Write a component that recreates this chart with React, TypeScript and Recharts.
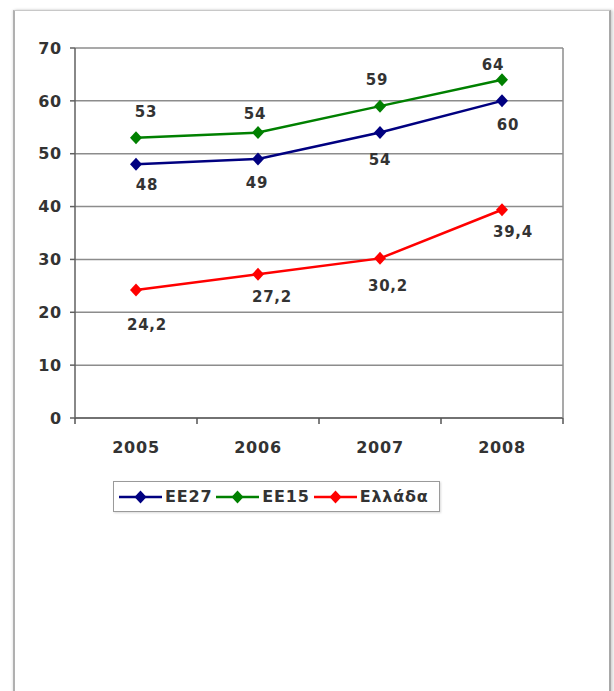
import React from "react";
import { LineChart, Line, XAxis, YAxis, CartesianGrid, LabelList } from "recharts";

// Years on the category axis
const years = ["2005", "2006", "2007", "2008"];

// Series values
const ee27 = [48, 49, 54, 60];
const ee15 = [53, 54, 59, 64];
const ellada = [24.2, 27.2, 30.2, 39.4];

// Value axis ticks
const yTicks = [0, 10, 20, 30, 40, 50, 60, 70];

const series = [
  { key: "ee27", name: "ΕΕ27", color: "#000080", values: ee27 },
  { key: "ee15", name: "ΕΕ15", color: "#008000", values: ee15 },
  { key: "ellada", name: "Ελλάδα", color: "#ff0000", values: ellada },
];

// Hand-tuned label nudges (dx, dy) per series and year
const labelNudges: Record<string, [number, number][]> = {
  ee27: [[11, 21], [-1, 24], [0, 27], [6, 24]],
  ee15: [[10, -26], [-3, -19], [-3, -26], [-9, -15]],
  ellada: [[11, 35], [14, 23], [8, 28], [11, 22]],
};

const data = years.map((year, i) => ({
  year,
  ee27: ee27[i],
  ee15: ee15[i],
  ellada: ellada[i],
}));

const FONT = "'DejaVu Sans', Verdana, sans-serif";
const TEXT = "#333333";
const PLOT_W = 488;
const HALF_BAND = PLOT_W / years.length / 2;

const fmt = (v: number) => String(v).replace(".", ",");

const Diamond = (props: any) => {
  const { cx, cy, fill } = props;
  if (cx == null || cy == null) return null;
  const r = 6.5;
  return (
    <polygon
      points={`${cx},${cy - r} ${cx + r - 0.5},${cy} ${cx},${cy + r} ${cx - r + 0.5},${cy}`}
      fill={fill}
    />
  );
};

const makeLabel = (key: string) => (props: any) => {
  const { x, y, value, index } = props;
  const [dx, dy] = labelNudges[key][index] || [0, 0];
  return (
    <text
      x={x + dx}
      y={y + dy}
      textAnchor="middle"
      dominantBaseline="central"
      fontFamily={FONT}
      fontWeight="bold"
      fontSize={15}
      letterSpacing={0.8}
      fill={TEXT}
    >
      {fmt(value)}
    </text>
  );
};

// Category tick: label in the middle, tick marks on the band boundaries
const YearTick = (props: any) => {
  const { x, y, payload, index } = props;
  const last = index === years.length - 1;
  return (
    <g>
      <line x1={x - HALF_BAND} y1={y - 8} x2={x - HALF_BAND} y2={y - 2} stroke="#555" strokeWidth={1.5} />
      {last && (
        <line x1={x + HALF_BAND} y1={y - 8} x2={x + HALF_BAND} y2={y - 2} stroke="#555" strokeWidth={1.5} />
      )}
      <text
        x={x}
        y={y + 27}
        textAnchor="middle"
        fontFamily={FONT}
        fontWeight="bold"
        fontSize={16}
        letterSpacing={0.8}
        fill={TEXT}
      >
        {payload.value}
      </text>
    </g>
  );
};

const LegendIcon = ({ color }: { color: string }) => (
  <svg width={43} height={14} style={{ display: "block" }}>
    <line x1={0} y1={7} x2={43} y2={7} stroke={color} strokeWidth={2.5} />
    <polygon points="21.5,0.5 27.5,7 21.5,13.5 15.5,7" fill={color} />
  </svg>
);

export default function App() {
  return (
    <div
      style={{
        position: "absolute",
        left: 0,
        top: 0,
        width: 614,
        height: 691,
        background: "#fff",
        overflow: "hidden",
      }}
    >
      <div
        style={{
          position: "absolute",
          left: 13,
          top: 10,
          width: 598,
          height: 700,
          border: "1px solid #c8c8c8",
          borderRight: "2px solid #a8a8a8",
          borderLeft: "2px solid #b0b0b0",
          boxShadow: "2px 0 3px rgba(0,0,0,0.18), -1px 0 2px rgba(0,0,0,0.08)",
          boxSizing: "border-box",
        }}
      />
      <div style={{ position: "absolute", left: 0, top: 0 }}>
        <LineChart width={614} height={470} data={data} margin={{ top: 48, right: 0, bottom: 0, left: 0 }}>
          <CartesianGrid vertical={false} stroke="#8c8c8c" strokeWidth={1.5} />
          <XAxis
            dataKey="year"
            padding={{ left: HALF_BAND, right: HALF_BAND }}
            height={52}
            axisLine={{ stroke: "#606060", strokeWidth: 1.5 }}
            tickLine={false}
            tick={<YearTick />}
            interval={0}
          />
          <YAxis
            width={75}
            domain={[0, 70]}
            ticks={yTicks}
            interval={0}
            axisLine={{ stroke: "#606060", strokeWidth: 1.5 }}
            tickLine={{ stroke: "#606060", strokeWidth: 1.5 }}
            tickSize={5}
            tickMargin={8}
            tick={{ fontFamily: FONT, fontWeight: "bold", fontSize: 16, fill: TEXT, letterSpacing: 0.8 }}
          />
          <YAxis
            yAxisId="frame"
            orientation="right"
            width={51}
            domain={[0, 70]}
            tick={false}
            tickLine={false}
            axisLine={{ stroke: "#8c8c8c", strokeWidth: 1.5 }}
          />
          {series.map((s) => (
            <Line
              key={s.key}
              dataKey={s.key}
              name={s.name}
              stroke={s.color}
              fill={s.color}
              strokeWidth={2.5}
              dot={<Diamond fill={s.color} />}
              activeDot={false}
              isAnimationActive={false}
            >
              <LabelList dataKey={s.key} content={makeLabel(s.key)} />
            </Line>
          ))}
        </LineChart>
      </div>
      <div
        style={{
          position: "absolute",
          left: 113,
          top: 481,
          width: 327,
          height: 31,
          border: "1px solid #9a9a9a",
          boxShadow: "1px 1px 2px rgba(0,0,0,0.15)",
          boxSizing: "border-box",
          display: "flex",
          alignItems: "center",
          paddingLeft: 5,
          fontFamily: FONT,
          fontWeight: "bold",
          fontSize: 16,
          color: TEXT,
          background: "#fff",
          whiteSpace: "nowrap",
        }}
      >
        {series.map((s) => (
          <div key={s.key} style={{ display: "flex", alignItems: "center", marginRight: 4 }}>
            <LegendIcon color={s.color} />
            <span style={{ marginLeft: 3, letterSpacing: 0.8 }}>{s.name}</span>
          </div>
        ))}
      </div>
    </div>
  );
}
